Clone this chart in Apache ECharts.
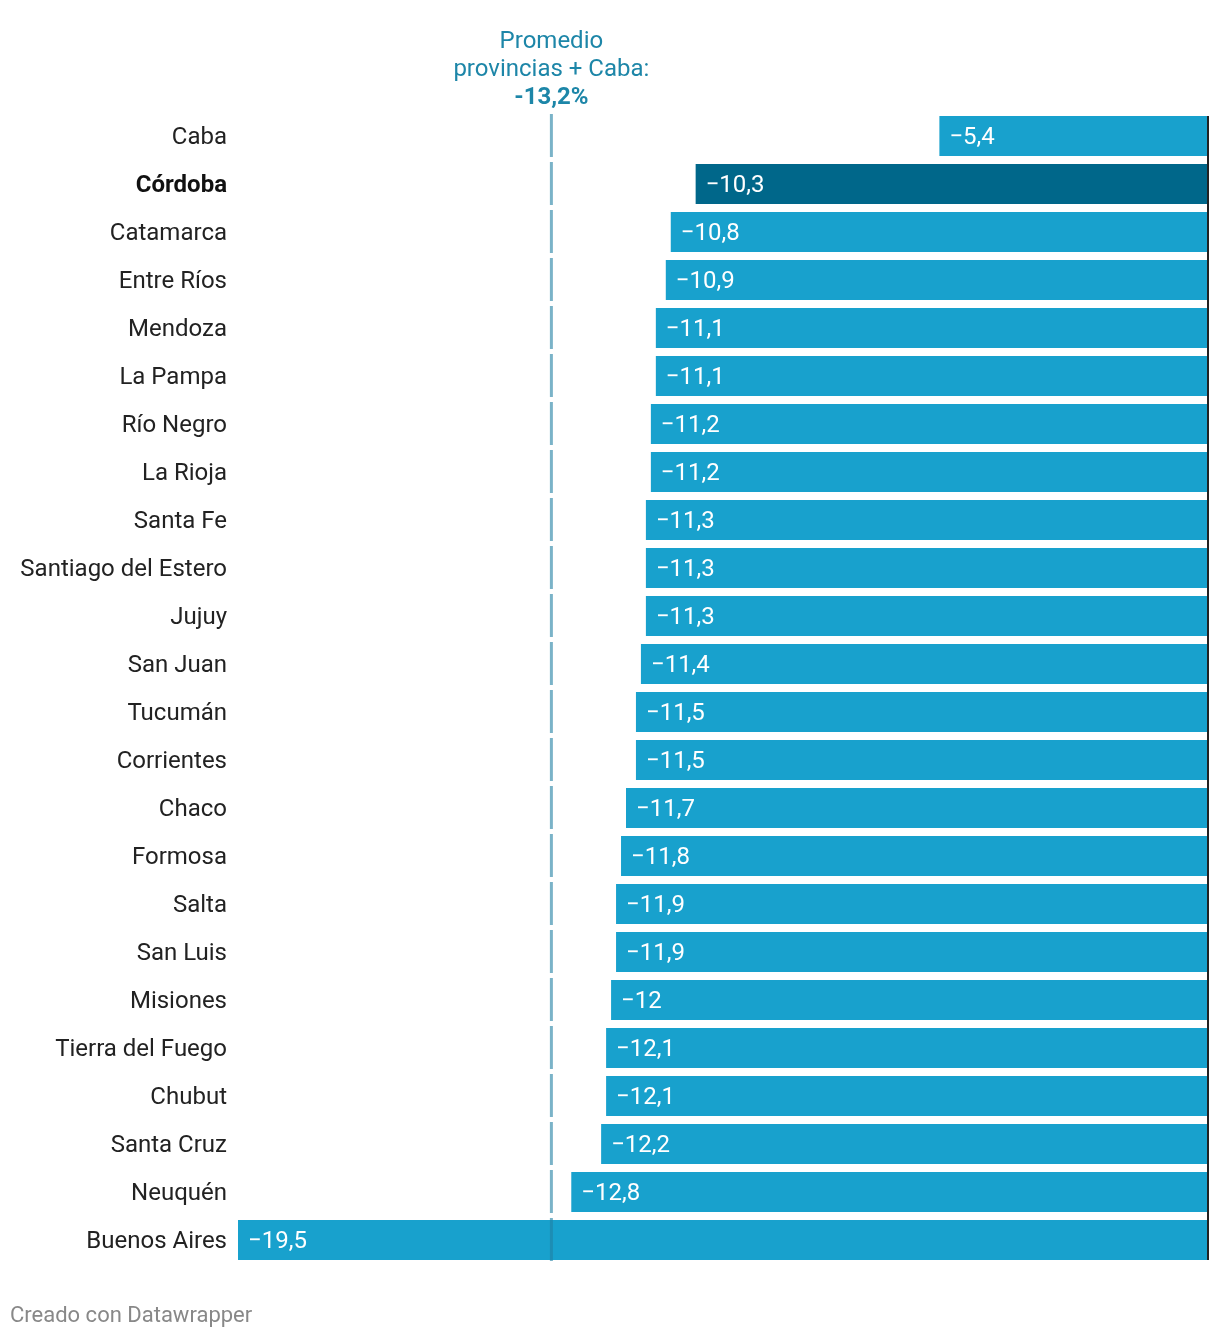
<!DOCTYPE html>
<html><head><meta charset="utf-8">
<script src="https://cdn.jsdelivr.net/npm/echarts@6/dist/echarts.min.js"></script>
<style>html,body{margin:0;padding:0;background:#fff}#c{width:1220px;height:1338px}</style>
</head><body><div id="c"></div>
<script>
var categories = ['Caba','Córdoba','Catamarca','Entre Ríos','Mendoza','La Pampa','Río Negro','La Rioja','Santa Fe','Santiago del Estero','Jujuy','San Juan','Tucumán','Corrientes','Chaco','Formosa','Salta','San Luis','Misiones','Tierra del Fuego','Chubut','Santa Cruz','Neuquén','Buenos Aires'];
var values = [-5.4,-10.3,-10.8,-10.9,-11.1,-11.1,-11.2,-11.2,-11.3,-11.3,-11.3,-11.4,-11.5,-11.5,-11.7,-11.8,-11.9,-11.9,-12,-12.1,-12.1,-12.2,-12.8,-19.5];
var highlight = 'Córdoba';
var average = -13.2;
var avgTitle = ['Promedio','provincias + Caba:','-13,2%'];
var footer = 'Creado con Datawrapper';

var FONT = 'Roboto';
function fmt(v){ return (v<0?'\u2212':'') + String(Math.abs(v)).replace('.', ','); }

var chart = echarts.init(document.getElementById('c'), null, {renderer:'canvas'});
var option = {
  animation:false,
  grid:{left:238, right:12, top:112, height:1152, containLabel:false},
  xAxis:{type:'value', min:-19.5, max:0, show:false},
  yAxis:[{
    type:'category', data:categories, inverse:true,
    axisLine:{show:false}, axisTick:{show:false}, splitLine:{show:false},
    axisLabel:{margin:11, fontFamily:FONT, fontSize:24, color:'#222', padding:[4,0,0,0],
      formatter:function(n){ return n===highlight ? '{b|'+n+'}' : n; },
      rich:{b:{fontFamily:FONT, fontSize:24, fontWeight:'bold', color:'#111'}}}
  },{
    type:'category', data:categories, inverse:true, position:'right',
    axisLine:{show:false}, axisTick:{show:false}, axisLabel:{show:false}
  }],
  series:[{
    type:'bar', barWidth:40,
    data:values.map(function(v,i){ return {value:v, itemStyle:{color: categories[i]===highlight ? '#00678a' : '#18a1cd'}}; }),
    label:{show:true, position:'insideLeft', distance:10, offset:[0,2], color:'#fff', fontFamily:FONT, fontSize:24,
      formatter:function(p){ return fmt(p.value); }}
  },{
    type:'custom', z:5,
    data:categories.map(function(c,i){ return [average, i]; }),
    renderItem:function(params, api){
      var p = api.coord([api.value(0), api.value(1)]);
      var h = api.size([0,1])[1];
      return {type:'line', shape:{x1:p[0], y1:p[1]-h/2+2, x2:p[0], y2:p[1]+h/2-3},
        style:{stroke:'rgba(33,128,163,0.6)', lineWidth:3}};
    }
  },{
    type:'custom', z:6,
    data:categories.map(function(c,i){ return [0, i]; }),
    renderItem:function(params, api){
      var p = api.coord([api.value(0), api.value(1)]);
      var h = api.size([0,1])[1];
      var i = api.value(1);
      var top = p[1]-h/2 + (i===0 ? 4 : 0);
      var bot = p[1]+h/2 - (i===categories.length-1 ? 4 : 0);
      return {type:'line', shape:{x1:p[0], y1:top, x2:p[0], y2:bot},
        style:{stroke:'#222', lineWidth:2}};
    }
  }]
};
chart.setOption(option);
var ax = chart.convertToPixel({xAxisIndex:0}, average);
chart.setOption({graphic:[
  {type:'text', x:ax, y:42, style:{text:avgTitle[0], fill:'#1d86a8', font:'24px '+FONT, textAlign:'center', textVerticalAlign:'middle'}},
  {type:'text', x:ax, y:70, style:{text:avgTitle[1], fill:'#1d86a8', font:'24px '+FONT, textAlign:'center', textVerticalAlign:'middle'}},
  {type:'text', x:ax, y:98, style:{text:avgTitle[2], fill:'#1d86a8', font:'bold 24px '+FONT, textAlign:'center', textVerticalAlign:'middle'}},
  {type:'text', x:10, y:1316, style:{text:footer, fill:'#888', font:'22px '+FONT, textAlign:'left', textVerticalAlign:'middle'}}
]});
</script></body></html>
